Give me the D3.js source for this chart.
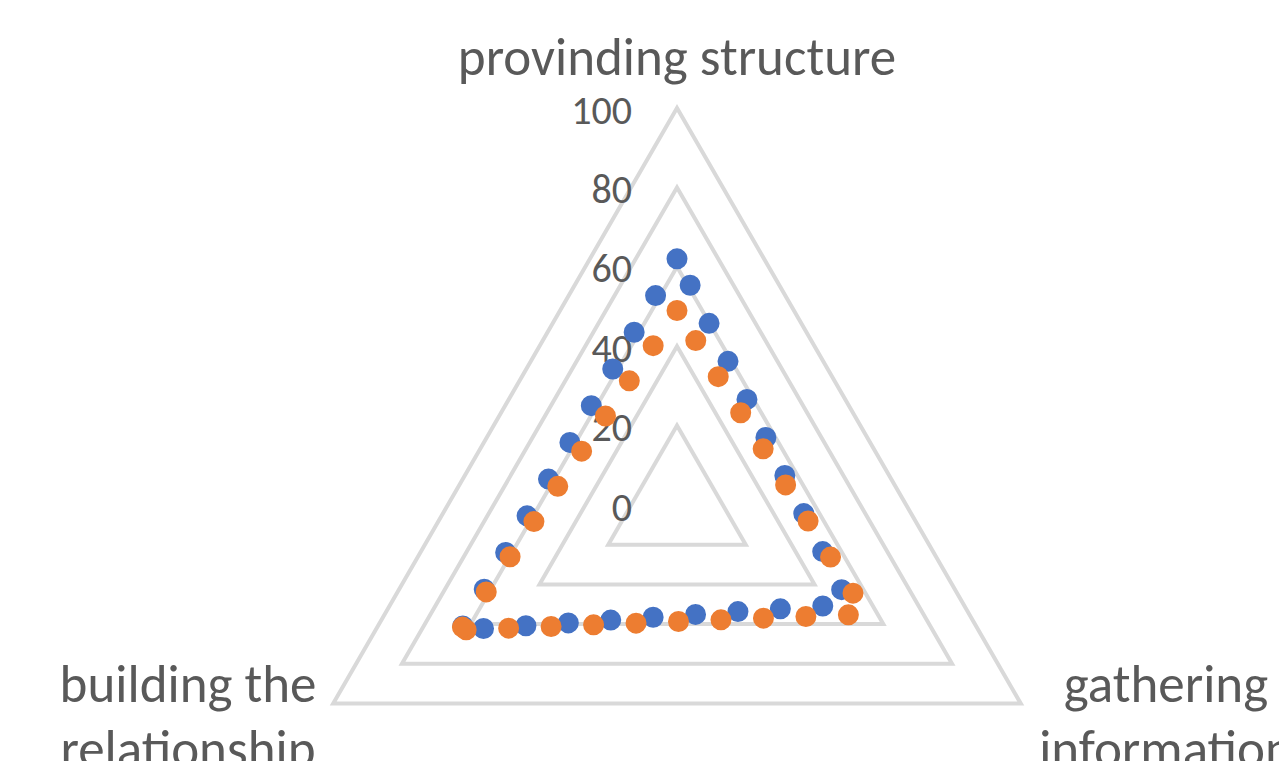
<!DOCTYPE html>
<html>
<head>
<meta charset="utf-8">
<script src="https://cdn.jsdelivr.net/npm/d3@7"></script>
<style>
  body { margin: 0; background: #fff; }
  text { font-family: Carlito, Calibri, Lato, sans-serif; fill: #595959; }
</style>
</head>
<body>
<svg id="chart"></svg>
<script>
// data
const categories = ["provinding structure", "gathering information", "building the relationship"];
const seriesBlue = [62, 50, 63];
const seriesOrange = [49, 55, 63];
const tickValues = [0, 20, 40, 60, 80, 100];

const width = 1279, height = 761;
const cx = 677, cy = 505;
const outerRadius = 397;

const svg = d3.select('#chart')
    .attr('width', width)
    .attr('height', height);

const g = svg.append('g')
    .attr('transform', `translate(${cx}, ${cy})`);

const rScale = d3.scaleLinear()
    .domain([0, 100])
    .range([0, outerRadius]);

const angleStep = 2 * Math.PI / categories.length;

// grid triangles
const gridLine = d3.lineRadial()
    .angle((d, i) => i * angleStep)
    .radius(d => rScale(d))
    .curve(d3.curveLinearClosed);

g.selectAll('.grid')
    .data(tickValues.filter(t => t > 0))
    .enter()
    .append('path')
    .attr('class', 'grid')
    .attr('d', t => gridLine(categories.map(() => t)))
    .attr('fill', 'none')
    .attr('stroke', '#d9d9d9')
    .attr('stroke-width', 4)
    .attr('stroke-linejoin', 'miter');

// tick labels, right aligned left of the top spoke
g.selectAll('.tick')
    .data(tickValues)
    .enter()
    .append('text')
    .attr('class', 'tick')
    .attr('x', -45)
    .attr('y', t => -rScale(t) + 2)
    .attr('text-anchor', 'end')
    .attr('dominant-baseline', 'central')
    .style('font-size', '40px')
    .text(t => t);

// series as round-dot lines.
// the dots run top -> right -> left in one stroke, the closing side
// is stroked on its own starting from the top
const segLine = d3.lineRadial()
    .angle(d => d.a)
    .radius(d => rScale(d.v));

const series = [
    { values: seriesBlue, color: '#4472c4', offset: 13 },
    { values: seriesOrange, color: '#ed7d31', offset: 7 }
];

series.forEach(s => {
    const pts = s.values.map((v, i) => ({ v: v, a: i * angleStep }));
    const segments = [
        { pts: pts, offset: s.offset },
        { pts: [pts[0], pts[pts.length - 1]], offset: 0 }
    ];
    g.selectAll(null)
        .data(segments)
        .enter()
        .append('path')
        .attr('class', 'series')
        .attr('d', d => segLine(d.pts))
        .attr('fill', 'none')
        .attr('stroke', s.color)
        .attr('stroke-width', 21)
        .attr('stroke-linecap', 'round')
        .attr('stroke-dasharray', '0 42.5')
        .attr('stroke-dashoffset', d => d.offset);
});

// category labels
const labelPos = [
    { x: 677, y: 75 },
    { x: 1166, y: 702 },
    { x: 188, y: 702 }
];

svg.selectAll('.cat')
    .data(categories)
    .enter()
    .append('text')
    .attr('class', 'cat')
    .attr('text-anchor', 'middle')
    .style('font-size', '53px')
    .each(function(d, i) {
        const t = d3.select(this);
        // top label stays on one line, the bottom ones wrap
        const words = d.split(' ');
        const cut = i === 2 ? 2 : 1;
        const lines = i === 0 ? [d] : [words.slice(0, cut).join(' '), words.slice(cut).join(' ')];
        lines.forEach((line, k) => {
            t.append('tspan')
                .attr('x', labelPos[i].x)
                .attr('y', labelPos[i].y + k * 65)
                .text(line);
        });
    });
</script>
</body>
</html>
